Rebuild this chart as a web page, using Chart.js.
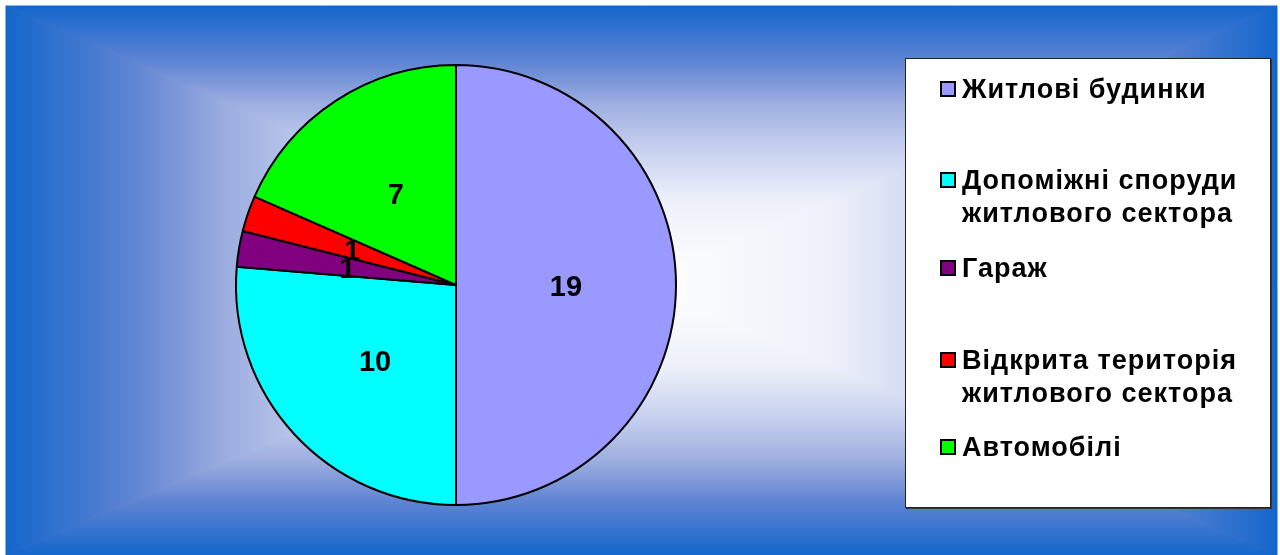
<!DOCTYPE html>
<html>
<head>
<meta charset="utf-8">
<script src="https://cdn.jsdelivr.net/npm/chart.js@4.4.1/dist/chart.umd.min.js"></script>
<style>
  html, body { margin: 0; padding: 0; background: #fff; }
  #wrap { width: 1280px; height: 555px; }
</style>
</head>
<body>
<div id="wrap"><canvas id="fireChart" width="1280" height="555"></canvas></div>
<script>
// chart data
const categories = [
    'Житлові будинки',
    ['Допоміжні споруди', 'житлового сектора'],
    'Гараж',
    ['Відкрита територія', 'житлового сектора'],
    'Автомобілі'
];
const values = [19, 10, 1, 1, 7];
const sliceColors = ['#9999FF', '#00FFFF', '#800080', '#FF0000', '#00FF00'];

// y of the first text line of each legend entry
const legendRows = [89, 180, 268, 360, 447];

// office-like "from center" rectangle gradient behind everything
const backgroundPlugin = {
    id: 'rectGradient',
    beforeDraw(chart) {
        const ctx = chart.ctx;
        const x0 = 6, y0 = 6, x1 = 1277, y1 = 555;
        const cx = 641, cy = 285;
        const stops = [
            [0, '#FFFFFF'],
            [0.3, '#EEF1FA'],
            [0.5, '#C4CEEE'],
            [0.65, '#9DAEE0'],
            [0.8, '#5F84D3'],
            [1, '#1466CC']
        ];
        ctx.save();
        ctx.fillStyle = '#fff';
        ctx.fillRect(0, 0, chart.width, chart.height);
        const tris = [
            [[x0, y0], [x1, y0], cx, y0, cx, cy],
            [[x1, y0], [x1, y1], x1, cy, cx, cy],
            [[x1, y1], [x0, y1], cx, y1, cx, cy],
            [[x0, y1], [x0, y0], x0, cy, cx, cy]
        ];
        tris.forEach(t => {
            const g = ctx.createLinearGradient(t[2], t[3], t[4], t[5]);
            stops.forEach(s => g.addColorStop(1 - s[0], s[1]));
            ctx.beginPath();
            ctx.moveTo(t[0][0], t[0][1]);
            ctx.lineTo(t[1][0], t[1][1]);
            ctx.lineTo(cx, cy);
            ctx.closePath();
            ctx.fillStyle = g;
            ctx.fill();
            ctx.strokeStyle = g;
            ctx.lineWidth = 1;
            ctx.stroke();
        });
        ctx.restore();
    }
};

// values written on the slices
const sliceLabels = {
    id: 'sliceLabels',
    afterDatasetsDraw(chart) {
        const ctx = chart.ctx;
        const meta = chart.getDatasetMeta(0);
        ctx.save();
        ctx.font = 'bold 29px "Liberation Sans", Arial, sans-serif';
        ctx.fillStyle = '#000';
        ctx.textAlign = 'center';
        ctx.textBaseline = 'middle';
        meta.data.forEach((arc, i) => {
            const p = arc.tooltipPosition();
            ctx.fillText(String(chart.data.datasets[0].data[i]), p.x, p.y + 3);
        });
        ctx.restore();
    }
};

// legend box on the right
const boxLegend = {
    id: 'boxLegend',
    afterDraw(chart) {
        const ctx = chart.ctx;
        const bx = 905, by = 58, bw = 366, bh = 450;
        ctx.save();
        ctx.fillStyle = '#333';
        ctx.fillRect(bx + 1, by + 1, bw, bh);
        ctx.fillStyle = '#fff';
        ctx.fillRect(bx, by, bw, bh);
        ctx.strokeStyle = '#222';
        ctx.lineWidth = 1;
        ctx.strokeRect(bx + 0.5, by + 0.5, bw - 1, bh - 1);

        ctx.font = 'bold 27px "Liberation Sans", Arial, sans-serif';
        ctx.letterSpacing = '1px';
        ctx.textBaseline = 'middle';
        ctx.textAlign = 'left';
        chart.data.labels.forEach((label, i) => {
            const lines = Array.isArray(label) ? label : [label];
            const y = legendRows[i];
            ctx.fillStyle = sliceColors[i];
            ctx.fillRect(941, y - 7, 14, 14);
            ctx.strokeStyle = '#000';
            ctx.lineWidth = 2;
            ctx.strokeRect(941, y - 7, 14, 14);
            ctx.fillStyle = '#000';
            lines.forEach((line, j) => {
                ctx.fillText(line, 962, y + 2 + j * 33);
            });
        });
        ctx.restore();
    }
};

const ctx = document.getElementById('fireChart').getContext('2d');
new Chart(ctx, {
    type: 'pie',
    data: {
        labels: categories,
        datasets: [{
            data: values,
            backgroundColor: sliceColors,
            borderColor: '#000',
            borderWidth: 2
        }]
    },
    options: {
        responsive: false,
        animation: false,
        layout: {
            padding: { left: 235, right: 603, top: 64, bottom: 49 }
        },
        plugins: {
            legend: { display: false },
            tooltip: { enabled: false }
        }
    },
    plugins: [backgroundPlugin, sliceLabels, boxLegend]
});
</script>
</body>
</html>
